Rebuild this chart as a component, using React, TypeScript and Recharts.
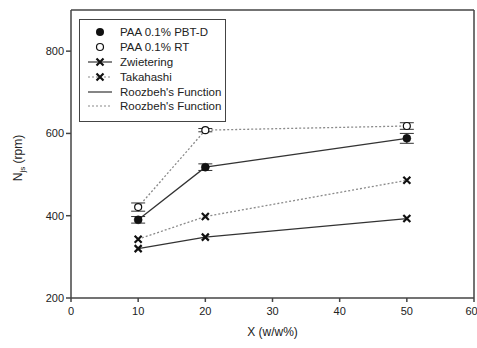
import React from 'react';
import { ComposedChart, Line, XAxis, YAxis, ErrorBar, ReferenceLine } from 'recharts';

const xs = [10, 20, 50];
const pbtD = [390, 518, 588];
const pbtDErr = [8, 8, 12];
const rt = [421, 608, 618];
const rtErr = [10, 4, 8];
const zwietering = [320, 348, 393];
const takahashi = [343, 398, 486];
const xTicks = [0, 10, 20, 30, 40, 50, 60];
const yTicks = [200, 400, 600, 800];

const data = xs.map((x, i) => ({
  x,
  pbtD: pbtD[i],
  pbtDErr: pbtDErr[i],
  rt: rt[i],
  rtErr: rtErr[i],
  zw: zwietering[i],
  tk: takahashi[i],
}));

const INK = '#222';
const DOT = '#8a8a8a';
const FONT = '"Liberation Sans", Arial, sans-serif';

const Cross = (props: any) => {
  const { cx, cy } = props;
  if (cx == null || cy == null) return null;
  const s = 3.5;
  return (
    <path
      d={`M${cx - s},${cy - s}L${cx + s},${cy + s}M${cx - s},${cy + s}L${cx + s},${cy - s}`}
      stroke="#111"
      strokeWidth={2.2}
      fill="none"
    />
  );
};

const legendItems = [
  { label: 'PAA 0.1% PBT-D', kind: 'filled' },
  { label: 'PAA 0.1% RT', kind: 'open' },
  { label: 'Zwietering', kind: 'crossSolid' },
  { label: 'Takahashi', kind: 'crossDot' },
  { label: "Roozbeh's Function", kind: 'solid' },
  { label: "Roozbeh's Function", kind: 'dotted' },
];

const LegendBox = () => (
  <div
    style={{
      position: 'absolute',
      left: 79,
      top: 19,
      boxSizing: 'border-box',
      width: 147,
      height: 103,
      border: '1.5px solid #444',
      background: '#fff',
      padding: '5px 3px 0 3px',
      fontFamily: FONT,
      fontSize: 11.5,
      color: INK,
      whiteSpace: 'nowrap',
    }}
  >
    {legendItems.map((it, i) => (
      <div key={i} style={{ display: 'flex', alignItems: 'center', height: 14.8 }}>
        <svg width={34} height={12} style={{ marginRight: 3 }}>
          {(it.kind === 'crossSolid' || it.kind === 'solid') && (
            <line x1={5} y1={6} x2={29} y2={6} stroke="#333" strokeWidth={1.2} />
          )}
          {(it.kind === 'crossDot' || it.kind === 'dotted') && (
            <line x1={5} y1={6} x2={29} y2={6} stroke={DOT} strokeWidth={1.2} strokeDasharray="2 2" />
          )}
          {it.kind === 'filled' && <circle cx={17} cy={6} r={4} fill="#111" />}
          {it.kind === 'open' && <circle cx={17} cy={6} r={3.5} fill="#fff" stroke="#111" strokeWidth={1.2} />}
          {(it.kind === 'crossSolid' || it.kind === 'crossDot') && <Cross cx={17} cy={6} />}
        </svg>
        <span>{it.label}</span>
      </div>
    ))}
  </div>
);

const YLabel = () => (
  <text
    x={22}
    y={158}
    transform="rotate(-90 22 158)"
    textAnchor="middle"
    fill={INK}
    fontSize={12}
    fontFamily={FONT}
  >
    N
    <tspan fontSize={8} dy={3}>js</tspan>
    <tspan dy={-3}> (rpm)</tspan>
  </text>
);

export default function App() {
  const tickStyle = { fill: INK, fontSize: 11, fontFamily: FONT };
  return (
    <div style={{ position: 'absolute', left: 0, top: 0, width: 477, height: 348, background: '#fff' }}>
      <ComposedChart width={477} height={348} data={data} margin={{ top: 10, right: 3, bottom: 10, left: 0 }}>
        <XAxis
          dataKey="x"
          type="number"
          domain={[0, 60]}
          ticks={xTicks}
          tick={{ ...tickStyle, dy: 3 }}
          tickSize={4}
          stroke="#444"
          strokeWidth={1.5}
          height={40}
          label={{ value: 'X (w/w%)', position: 'insideBottom', offset: 2, fill: INK, fontSize: 12, fontFamily: FONT }}
        />
        <YAxis
          type="number"
          domain={[200, 900]}
          ticks={yTicks}
          tick={tickStyle}
          tickSize={5}
          stroke="#444"
          strokeWidth={1.5}
          width={71}
          label={<YLabel />}
        />
        <ReferenceLine y={900} stroke="#444" strokeWidth={1.5} />
        <ReferenceLine x={60} stroke="#444" strokeWidth={1.5} />
        <Line dataKey="rt" stroke={DOT} strokeWidth={1.3} strokeDasharray="2 2" isAnimationActive={false}
          dot={{ r: 3.5, fill: '#fff', stroke: '#111', strokeWidth: 1.2, strokeDasharray: '' }}>
          <ErrorBar dataKey="rtErr" direction="y" width={7} stroke="#333" strokeWidth={1} />
        </Line>
        <Line dataKey="pbtD" stroke="#333" strokeWidth={1.3} isAnimationActive={false}
          dot={{ r: 4, fill: '#111', stroke: '#111', strokeWidth: 0.5 }}>
          <ErrorBar dataKey="pbtDErr" direction="y" width={7} stroke="#333" strokeWidth={1} />
        </Line>
        <Line dataKey="tk" stroke={DOT} strokeWidth={1.3} strokeDasharray="2 2" isAnimationActive={false} dot={<Cross />} />
        <Line dataKey="zw" stroke="#333" strokeWidth={1.3} isAnimationActive={false} dot={<Cross />} />
      </ComposedChart>
      <LegendBox />
    </div>
  );
}
